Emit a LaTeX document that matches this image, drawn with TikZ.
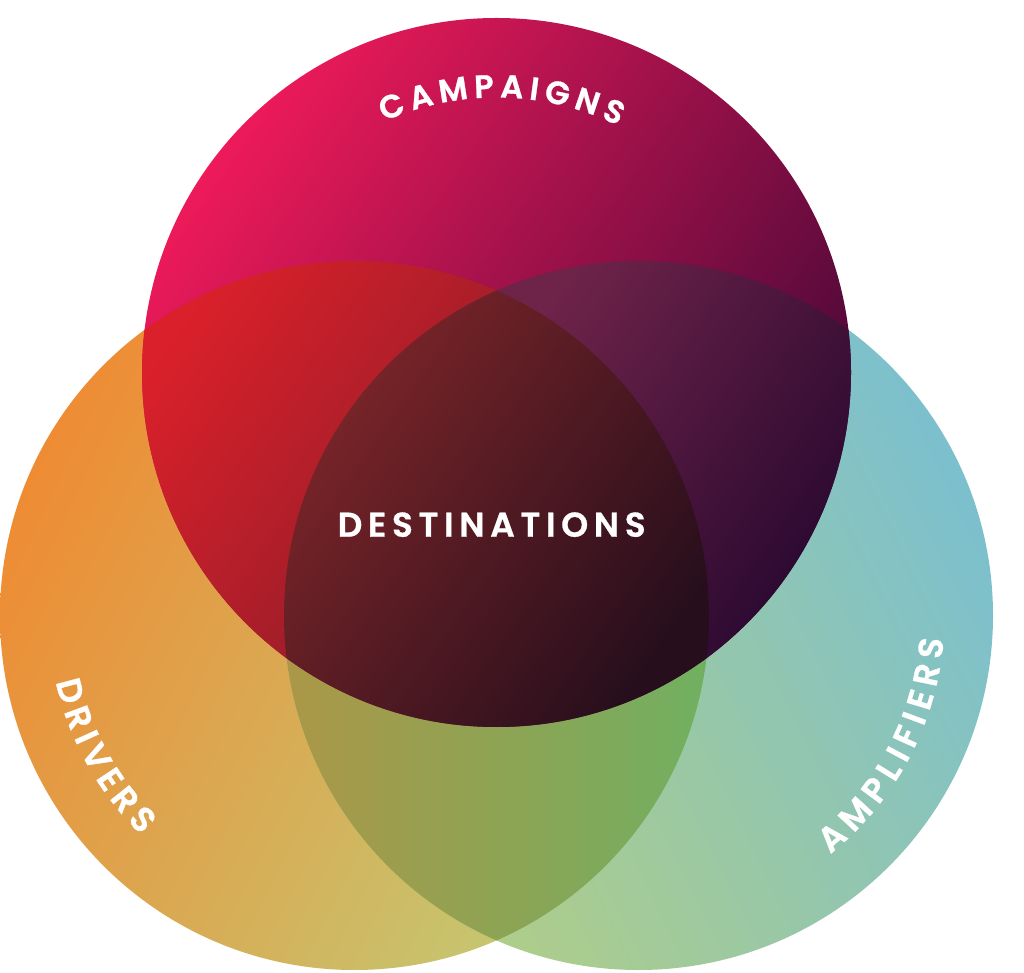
\documentclass[tikz,border=0pt]{standalone}
\usepackage{fontspec}
\newfontfamily\labfont{Poppins SemiBold}[FakeBold=0.8]
\definecolor{lTop}{HTML}{EE8C34}
\definecolor{lBot}{HTML}{C1CD78}
\definecolor{rTop}{HTML}{7CC0CE}
\definecolor{rBot}{HTML}{B5CF80}
\definecolor{tTop}{HTML}{EE1A5A}
\definecolor{tBot}{HTML}{3F0736}
\definecolor{tlTop}{HTML}{DA202A}
\definecolor{tlBot}{HTML}{8C1D29}
\definecolor{trTop}{HTML}{6E2349}
\definecolor{trBot}{HTML}{280830}
\definecolor{cTop}{HTML}{7E2629}
\definecolor{cBot}{HTML}{260E1C}
\definecolor{lrL}{HTML}{AC9747}
\definecolor{lrR}{HTML}{70B061}
\newlength\awlen
\makeatletter
\newcommand\awwidth[1]{\pgfinterruptpicture\settowidth{\awlen}{#1}\global\awlen=\awlen\endpgfinterruptpicture}
\newcommand\awheight[1]{\pgfinterruptpicture\settoheight{\awlen}{#1}\global\awlen=\awlen\endpgfinterruptpicture}
% font whose capital H is #1 pt tall
\newcommand\awsetfont[1]{%
  \awheight{\labfont\fontsize{100pt}{100pt}\selectfont H}%
  \pgfmathsetmacro\aw@sz{#1*100/\awlen}%
  \edef\aw@font{\noexpand\labfont\noexpand\fontsize{\aw@sz pt}{\aw@sz pt}\noexpand\selectfont}}
\newcommand\awmeasure[2]{%
  \gdef\aw@sum{0}\gdef\aw@n{0}%
  \foreach \ch in {#2}{%
    \awwidth{#1\ch}%
    \pgfmathsetmacro\aw@tmp{\aw@sum+\awlen}\global\let\aw@sum\aw@tmp
    \pgfmathsetmacro\aw@tmp{\aw@n+1}\global\let\aw@n\aw@tmp
  }}
% #1 cx, #2 cy, #3 baseline radius, #4 mid angle, #5 dir, #6 length, #7 cap height, #8 letters, #9 prefix
\newcommand\arcword[9]{%
  \awsetfont{#7}%
  \awmeasure{\aw@font}{#8}%
  \pgfmathsetmacro\aw@gap{(#6-\aw@sum)/(\aw@n-1)}%
  \gdef\aw@pos{0}%
  \foreach \ch [count=\awi] in {#8}{%
    \awwidth{\aw@font\ch}%
    \pgfmathsetmacro\aw@s{\aw@pos+0.5*\awlen-0.5*#6}%
    \pgfmathsetmacro\aw@ang{#4+(#5)*(\aw@s)/(#3)*180/pi}%
    \pgfmathsetmacro\aw@rot{\aw@ang+(#5)*90}%
    \pgfmathsetmacro\aw@x{#1+#3*cos(\aw@ang)}%
    \pgfmathsetmacro\aw@y{#2+#3*sin(\aw@ang)}%
    \node[letter, font=\aw@font, rotate=\aw@rot] (#9\awi) at (\aw@x,\aw@y) {\ch};
    \pgfmathsetmacro\aw@tmp{\aw@pos+\awlen+\aw@gap}\global\let\aw@pos\aw@tmp
  }}
% #1 cx, #2 baseline y, #3 length, #4 cap height, #5 letters, #6 prefix
\newcommand\lineword[6]{%
  \awsetfont{#4}%
  \awmeasure{\aw@font}{#5}%
  \pgfmathsetmacro\aw@gap{(#3-\aw@sum)/(\aw@n-1)}%
  \gdef\aw@pos{0}%
  \foreach \ch [count=\awi] in {#5}{%
    \awwidth{\aw@font\ch}%
    \pgfmathsetmacro\aw@x{#1+\aw@pos+0.5*\awlen-0.5*#3}%
    \node[letter, font=\aw@font] (#6\awi) at (\aw@x,#2) {\ch};
    \pgfmathsetmacro\aw@tmp{\aw@pos+\awlen+\aw@gap}\global\let\aw@pos\aw@tmp
  }}
\makeatother
\begin{document}
\begin{tikzpicture}[x=1pt,y=1pt,
  letter/.style={inner sep=0pt, outer sep=0pt, anchor=base, text=white}]
\useasboundingbox (0,0) rectangle (1024,972);
\fill[white] (0,0) rectangle (1024,972);
\coordinate (T) at (496.5,599.5);
\coordinate (L) at (354.5,356.5);
\coordinate (R) at (638.5,356.5);
\def\rr{354.5}
% left and right circles
\shade[top color=lTop, bottom color=lBot, shading angle=64] (L) circle[radius=\rr];
\shade[top color=rTop, bottom color=rBot, shading angle=-64] (R) circle[radius=\rr];
% left and right overlap
\begin{scope}
  \clip (L) circle[radius=\rr];
  \clip (R) circle[radius=\rr];
  \shade[left color=lrL, right color=lrR] (280,25) rectangle (713,320);
\end{scope}
% top circle
\shade[top color=tTop, bottom color=tBot, shading angle=55] (T) circle[radius=\rr];
% top and left
\begin{scope}
  \clip (T) circle[radius=\rr];
  \clip (L) circle[radius=\rr];
  \shade[top color=tlTop, bottom color=tlBot, shading angle=55] (138,310) rectangle (500,715);
\end{scope}
% top and right
\begin{scope}
  \clip (T) circle[radius=\rr];
  \clip (R) circle[radius=\rr];
  \shade[top color=trTop, bottom color=trBot, shading angle=55] (493,310) rectangle (855,715);
\end{scope}
% centre
\begin{scope}
  \clip (T) circle[radius=\rr];
  \clip (L) circle[radius=\rr];
  \clip (R) circle[radius=\rr];
  \shade[top color=cTop, bottom color=cBot, shading angle=55] (280,240) rectangle (713,685);
\end{scope}
% labels
\arcword{496.5}{599.5}{275}{88.9}{-1}{242}{22.5}{C,A,M,P,A,I,G,N,S}{camp}
\arcword{354.5}{356.5}{306}{209.2}{1}{178}{24}{D,R,I,V,E,R,S}{drv}
\arcword{638.5}{356.5}{306}{-27.8}{1}{250}{24}{A,M,P,L,I,F,I,E,R,S}{amp}
\lineword{491.7}{435.3}{308}{24}{D,E,S,T,I,N,A,T,I,O,N,S}{dest}
\end{tikzpicture}
\end{document}
